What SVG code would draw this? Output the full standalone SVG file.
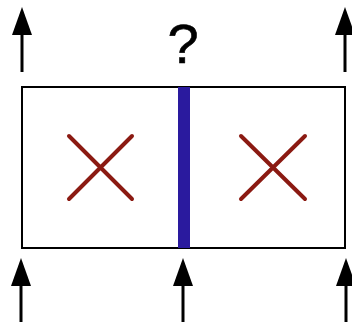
<svg xmlns="http://www.w3.org/2000/svg" width="352" height="324" viewBox="0 0 352 324">
<defs>
<style>
.arr{stroke:#000;stroke-width:3;fill:none}
.x{stroke:#8B1A12;stroke-width:4;stroke-linecap:round;fill:none}
</style>
<marker id="ah" viewBox="0 0 28 20" refX="0" refY="10" markerWidth="28" markerHeight="20" markerUnits="userSpaceOnUse" orient="auto">
<path d="M0,0 L28,10 L0,20 Z" fill="#000"/>
</marker>
</defs>
<rect width="352" height="324" fill="#fff"/>
<g id="box">
<rect x="22" y="87" width="323" height="161" fill="#fff" stroke="#000" stroke-width="2"/>
</g>
<g id="divider">
<rect x="178" y="87" width="12" height="161" fill="#2A1A9E"/>
</g>
<g id="cross-left">
<path class="x" d="M69,136 L132,199 M132,136 L69,199"/>
</g>
<g id="cross-right">
<path class="x" d="M241,136 L305,199 M305,136 L241,199"/>
</g>
<g id="label">
<text x="183" y="63" font-family="Liberation Sans, Arial, sans-serif" font-size="56" text-anchor="middle" fill="#000" stroke="#000" stroke-width="0.6">?</text>
</g>
<g id="connectors">
<line class="arr" x1="22" y1="72" x2="22" y2="35" marker-end="url(#ah)"/>
<line class="arr" x1="345" y1="72" x2="345" y2="35" marker-end="url(#ah)"/>
<line class="arr" x1="21" y1="322" x2="21" y2="286" marker-end="url(#ah)"/>
<line class="arr" x1="183" y1="322" x2="183" y2="286" marker-end="url(#ah)"/>
<line class="arr" x1="346" y1="322" x2="346" y2="286" marker-end="url(#ah)"/>
</g>
</svg>
